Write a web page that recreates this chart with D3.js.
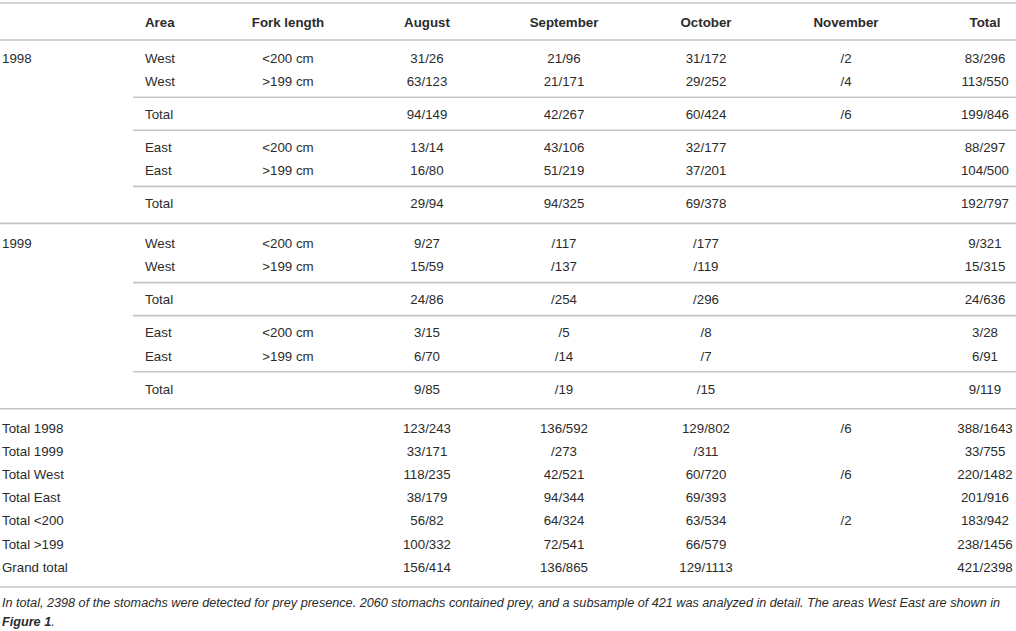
<!DOCTYPE html>
<html>
<head>
<meta charset="utf-8">
<script src="https://cdn.jsdelivr.net/npm/d3@7"></script>
<style>
  body { margin: 0; background: #fff; }
  svg text { font-family: "Liberation Sans", Arial, Helvetica, sans-serif; fill: #2b2b2b; }
</style>
</head>
<body>
<svg id="tbl"></svg>
<script>
// table contents
var columns = ["August", "September", "October", "November", "Total"];
var years = ["1998", "1999"];
var areas = ["West", "West", "Total", "East", "East", "Total"];
var forks = ["<200 cm", ">199 cm", "", "<200 cm", ">199 cm", ""];
// sections inside one year block: how many rows each holds
var blockSections = [2, 1, 2, 1];

var values1998 = [
  ["31/26", "21/96", "31/172", "/2", "83/296"],
  ["63/123", "21/171", "29/252", "/4", "113/550"],
  ["94/149", "42/267", "60/424", "/6", "199/846"],
  ["13/14", "43/106", "32/177", "", "88/297"],
  ["16/80", "51/219", "37/201", "", "104/500"],
  ["29/94", "94/325", "69/378", "", "192/797"]
];
var values1999 = [
  ["9/27", "/117", "/177", "", "9/321"],
  ["15/59", "/137", "/119", "", "15/315"],
  ["24/86", "/254", "/296", "", "24/636"],
  ["3/15", "/5", "/8", "", "3/28"],
  ["6/70", "/14", "/7", "", "6/91"],
  ["9/85", "/19", "/15", "", "9/119"]
];

var summaryLabels = ["Total 1998", "Total 1999", "Total West", "Total East", "Total <200", "Total >199", "Grand total"];
var summaryValues = [
  ["123/243", "136/592", "129/802", "/6", "388/1643"],
  ["33/171", "/273", "/311", "", "33/755"],
  ["118/235", "42/521", "60/720", "/6", "220/1482"],
  ["38/179", "94/344", "69/393", "", "201/916"],
  ["56/82", "64/324", "63/534", "/2", "183/942"],
  ["100/332", "72/541", "66/579", "", "238/1456"],
  ["156/414", "136/865", "129/1113", "", "421/2398"]
];

var captionLines = [
  "In total, 2398 of the stomachs were detected for prey presence. 2060 stomachs contained prey, and a subsample of 421 was analyzed in detail. The areas West East are shown in",
  "Figure 1"
];

var width = 1016, height = 631;
var fontSize = 13.3, pitch = 23.2;
var lineColor = "#c4c4c4";

var svg = d3.select("#tbl")
    .attr("width", width)
    .attr("height", height);

// month columns are not evenly spaced, so an ordinal scale holds the centres
var xCol = d3.scaleOrdinal()
    .domain(columns)
    .range([427, 564, 706, 846, 985]);
var xYear = 2, xArea = 145, xFork = 288, xPartial = 133;

// build row list + rule list by walking down the table
var rows = [], rules = [];
var y = 3;
rules.push({ y: y, x0: 0 });
y += 19;
rows.push({ y: y, header: true, cells: ["", "Area", "Fork length"].concat(columns) });
y += 18;
rules.push({ y: y, x0: 0 });

years.forEach(function (yr, bi) {
  var vals = bi === 0 ? values1998 : values1999;
  y += bi === 0 ? 18 : 20;
  var r = 0;
  blockSections.forEach(function (n, si) {
    if (si > 0) y += 17;
    for (var k = 0; k < n; k++) {
      if (k > 0) y += pitch;
      rows.push({ y: y, cells: [r === 0 ? yr : "", areas[r], forks[r]].concat(vals[r]) });
      r++;
    }
    if (si < blockSections.length - 1) {
      y += 16;
      rules.push({ y: y, x0: xPartial });
    }
  });
  y += 20;
  rules.push({ y: y, x0: 0 });
});

y += 19;
summaryLabels.forEach(function (lab, i) {
  if (i > 0) y += pitch;
  rows.push({ y: y, cells: [lab, "", ""].concat(summaryValues[i]) });
});
y += 20;
rules.push({ y: y, x0: 0 });

svg.selectAll("line.rule")
    .data(rules)
    .enter()
    .append("line")
    .attr("class", "rule")
    .attr("x1", function (d) { return d.x0; })
    .attr("x2", width)
    .attr("y1", function (d) { return d.y; })
    .attr("y2", function (d) { return d.y; })
    .attr("stroke", lineColor)
    .attr("stroke-width", 1.6);

var cellX = [xYear, xArea, xFork].concat(columns.map(function (c) { return xCol(c); }));
var cellAnchor = ["start", "start", "middle", "middle", "middle", "middle", "middle", "middle"];

var rowG = svg.selectAll("g.row")
    .data(rows)
    .enter()
    .append("g")
    .attr("class", "row")
    .attr("transform", function (d) { return "translate(0," + d.y + ")"; });

rowG.selectAll("text")
    .data(function (d) {
      return d.cells.map(function (c, i) { return { t: c, i: i, header: d.header }; });
    })
    .enter()
    .append("text")
    .attr("x", function (d) { return cellX[d.i]; })
    .attr("dy", "0.36em")
    .attr("text-anchor", function (d) { return cellAnchor[d.i]; })
    .style("font-size", fontSize + "px")
    .style("font-weight", function (d) { return d.header ? "bold" : "normal"; })
    .text(function (d) { return d.t; });

// caption
var cap = svg.append("g")
    .attr("transform", "translate(2," + (y + 15) + ")");
cap.append("text")
    .attr("dy", "0.36em")
    .style("font-size", "12.65px")
    .style("font-style", "italic")
    .text(captionLines[0]);
var cap2 = cap.append("text")
    .attr("y", 19)
    .attr("dy", "0.36em")
    .style("font-size", "12.65px")
    .style("font-style", "italic");
cap2.append("tspan").style("font-weight", "bold").text(captionLines[1]);
cap2.append("tspan").text(".");
</script>
</body>
</html>
